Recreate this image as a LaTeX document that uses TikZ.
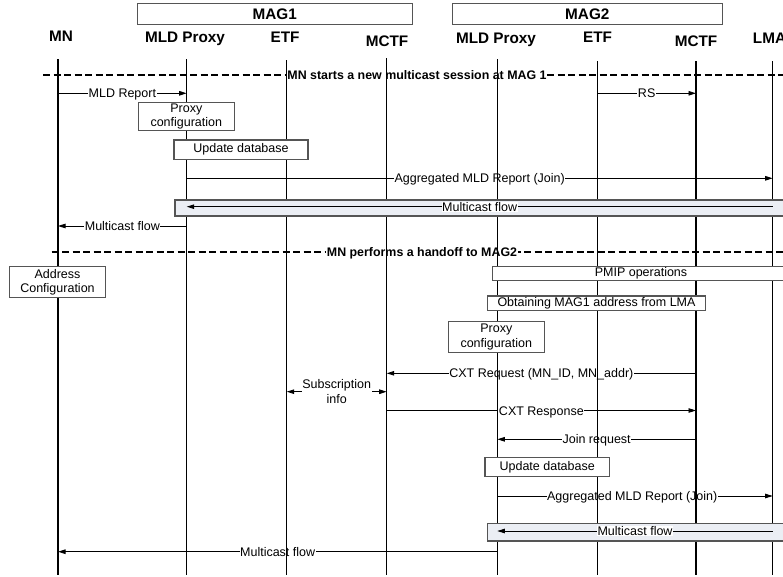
\documentclass[tikz,border=0pt]{standalone}
\usepackage{fontspec}
\setmainfont{Liberation Sans}
\usetikzlibrary{arrows.meta}
\definecolor{mflow}{HTML}{EBEEF4}
\definecolor{boxline}{HTML}{555555}
\newcommand\hdrfont{\fontsize{15.3}{17}\selectfont\bfseries}
\newcommand\lblfont{\fontsize{12.5}{14.5}\selectfont}
\newcommand\seplblfont{\fontsize{12.4}{14}\selectfont\bfseries}
\begin{document}
\begin{tikzpicture}[x=1pt,y=-1pt,
  lifeline/.style={line width=1.3pt},
  msg/.style={line width=0.9pt,-{Triangle[length=7.5pt,width=4.5pt]}},
  dmsg/.style={line width=0.9pt,{Triangle[length=7.5pt,width=4.5pt]}-{Triangle[length=7.5pt,width=4.5pt]}},
  lbl/.style={fill=white,inner sep=0.6pt,font=\lblfont,anchor=base,yshift=-4.5pt},
  mlbl/.style={fill=white,inner sep=0.6pt,font=\lblfont,align=center},
  hdr/.style={font=\hdrfont,inner sep=0,anchor=base},
  magbox/.style={draw=boxline,line width=1.3pt,font=\hdrfont,inner sep=0},
  stepbox/.style={draw=boxline,fill=white,line width=1.2pt,font=\lblfont,align=center,inner sep=0},
  flowbox/.style={stepbox,fill=mflow},
  sepline/.style={line width=1.7pt,dash pattern=on 7pt off 3.5pt},
  seplbl/.style={fill=white,inner sep=0.6pt,font=\seplblfont,anchor=base,yshift=-4.4pt}]
\useasboundingbox (0,0) rectangle (783,577);

% group boxes and headers
\node[magbox,minimum width=275pt,minimum height=21pt] (mag1) at (274.8,13.8) {MAG1};
\node[magbox,minimum width=270pt,minimum height=21pt] (mag2) at (587.3,13.8) {MAG2};
\node[hdr] (hmn) at (61,41.7) {MN};
\node[hdr] (hmlda) at (185,42.5) {MLD Proxy};
\node[hdr] (hetfa) at (285,42.3) {ETF};
\node[hdr] (hmctfa) at (387,46.5) {MCTF};
\node[hdr] (hmldb) at (496,43.3) {MLD Proxy};
\node[hdr] (hetfb) at (597.5,42.5) {ETF};
\node[hdr] (hmctfb) at (696,46.7) {MCTF};
\node[hdr,anchor=base west] (hlma) at (752.7,43.3) {LMA};

% lifeline ends
\coordinate (mn-t) at (58,59.5);    \coordinate (mn-b) at (58,575);
\coordinate (mlda-t) at (186.7,59.5); \coordinate (mlda-b) at (186.7,575);
\coordinate (etfa-t) at (286.7,60.5); \coordinate (etfa-b) at (286.7,575);
\coordinate (mctfa-t) at (386.7,58.5); \coordinate (mctfa-b) at (386.7,575);
\coordinate (mldb-t) at (497.3,59.5); \coordinate (mldb-b) at (497.3,575);
\coordinate (etfb-t) at (597.3,61.5); \coordinate (etfb-b) at (597.3,575);
\coordinate (mctfb-t) at (696,61.5); \coordinate (mctfb-b) at (696,575);
\coordinate (lma-t) at (772.7,61.5); \coordinate (lma-b) at (772.7,575);

% separators
\coordinate (s1a) at (43,75); \coordinate (s1b) at (790,75);
\draw[sepline] (s1a) -- (s1b);
\node[seplbl] (s1l) at (417,75) {MN starts a new multicast session at MAG 1};
\coordinate (s2a) at (51.7,251.7); \coordinate (s2b) at (790,251.7);
\draw[sepline] (s2a) -- (s2b);
\node[seplbl] (s2l) at (422,251.7) {MN performs a handoff to MAG2};

% messages
\draw[msg] (mn-t |- 0,93.3) -- (mlda-t |- 0,93.3) node[lbl,midway] {MLD Report};
\draw[msg] (etfb-t |- 0,93.3) -- (mctfb-t |- 0,93.3) node[lbl,midway] {RS};
\draw[msg] (mlda-t |- 0,178.3) -- (lma-t |- 0,178.3) node[lbl,midway] {Aggregated MLD Report (Join)};
\draw[msg] (mlda-t |- 0,226) -- (mn-t |- 0,226) node[lbl,midway] {Multicast flow};
\draw[msg] (mctfb-t |- 0,373.3) -- (mctfa-t |- 0,373.3) node[lbl,midway] {CXT Request (MN\_ID, MN\_addr)};
\draw[dmsg] (etfa-t |- 0,391.7) -- (mctfa-t |- 0,391.7) node[mlbl,midway] {Subscription\\info};
\draw[msg] (mctfa-t |- 0,410.5) -- (mctfb-t |- 0,410.5) node[lbl,midway] {CXT Response};
\draw[msg] (mctfb-t |- 0,439.3) -- (mldb-t |- 0,439.3) node[lbl,midway] {Join request};
\draw[msg] (mldb-t |- 0,496) -- (lma-t |- 0,496) node[lbl,pos=0.49] {Aggregated MLD Report (Join)};
\draw[msg] (mldb-t |- 0,551.7) -- (mn-t |- 0,551.7) node[lbl,midway] {Multicast flow};

% lifelines
\foreach \n in {mn,mlda,etfa,mctfa,mldb,etfb,mctfb,lma}
  \draw[lifeline] (\n-t) -- (\n-b);

% action boxes
\node[stepbox,minimum width=96pt,minimum height=28pt] (pc1) at (186.3,116.7) {Proxy\\configuration};
\node[stepbox,minimum width=134pt,minimum height=19.3pt] (ud1) at (241,149.7) {Update database};
\node[flowbox,minimum width=620pt,minimum height=16pt] (fb1) at (485,208) {};
\node[stepbox,minimum width=96.4pt,minimum height=31pt] (ac) at (57.5,282.2) {Address\\Configuration};
\node[stepbox,minimum width=297.4pt,minimum height=14pt] (pmip) at (641,273.7) {PMIP operations};
\node[stepbox,minimum width=218.4pt,minimum height=14.7pt] (obt) at (596.5,303.3) {Obtaining MAG1 address from LMA};
\node[stepbox,minimum width=96pt,minimum height=30.6pt] (pc2) at (496.3,337) {Proxy\\configuration};
\node[stepbox,minimum width=124.3pt,minimum height=19pt] (ud2) at (547.2,467.2) {Update database};
\node[flowbox,minimum width=302.7pt,minimum height=17.7pt] (fb2) at (638.7,532.2) {};

% flows inside the shaded boxes
\draw[msg] (lma-t |- 0,206.7) -- (mlda-t |- 0,206.7) node[lbl,midway] {Multicast flow};
\draw[msg] (lma-t |- 0,531) -- (mldb-t |- 0,531) node[lbl,pos=0.5] {Multicast flow};
\end{tikzpicture}
\end{document}
